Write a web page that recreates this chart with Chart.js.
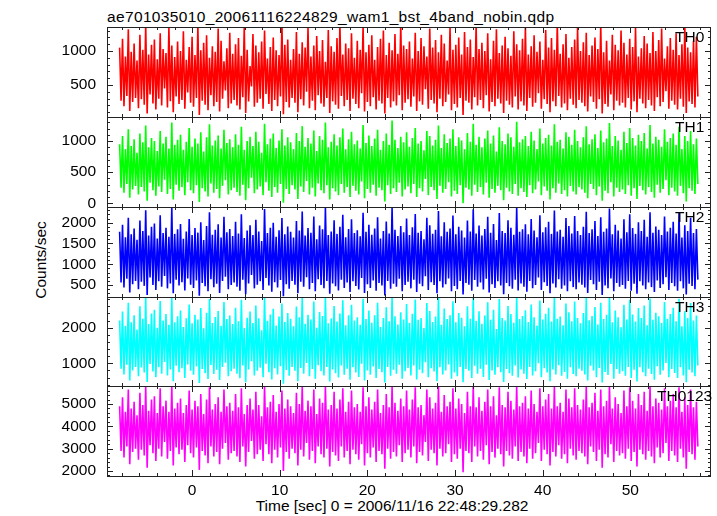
<!DOCTYPE html>
<html>
<head>
<meta charset="utf-8">
<script src="https://cdn.jsdelivr.net/npm/chart.js@4"></script>
<style>
  html, body { margin: 0; padding: 0; background: #fff; }
  #wrap { position: relative; width: 717px; height: 516px; overflow: hidden; font-family: "Liberation Sans", Arial, sans-serif; color: #000; }
  canvas { position: absolute; left: 0; }
  .txt { position: absolute; font-size: 15.5px; line-height: 16px; white-space: nowrap; }
</style>
</head>
<body>
<div id="wrap">
  <div class="txt" style="left:107px; top:9px; letter-spacing:0.35px;">ae701035010_20061116224829_wam1_bst_4band_nobin.qdp</div>
  <div class="txt" style="left:41px; top:260px; transform: translate(-50%,-50%) rotate(-90deg);">Counts/sec</div>
  <div class="txt" style="left:392px; top:498px; transform: translateX(-50%);">Time [sec] 0 = 2006/11/16 22:48:29.282</div>
</div>
<script>
// ---- sampling of the light curves ----
const timeStart = -8.26;   // time of first sample [s]
const timeEnd = 57.7;      // time of last sample [s]

// ---- count rates (counts/sec): upward and downward excursions, alternating in time ----
const th0Hi = [
1050,1180,920,1320,990,1110,860,1240,1020,1400,950,1090,1170,880,1260,1030,970,1350,1080,910,
1140,1000,1290,870,1060,1210,940,1380,1010,1120,1230,900,1070,990,1330,1150,850,1040,1270,960,
1100,1190,930,1360,1020,780,1250,1080,980,1140,1300,890,1060,1200,1010,940,1410,1090,1170,870,
1030,1280,960,1130,1050,1340,920,1080,1220,1000,1160,840,1310,1070,990,1190,1390,950,1110,1040,
1260,900,1150,1020,1370,980,1090,1230,870,1060,1180,1300,940,1120,1010,1250,960,1400,1080,1030,
1140,890,1270,1000,1190,1070,920,1330,1050,1160,980,1240,1110,860,1350,1020,1090,1200,950,1280,
1060,1170,910,1380,1030,1120,1000,1260,880,1150,1320,970,1080,1210,1040,930,1290,1100,1010,1180,
1360,950,1070,1230,990,1140,870,1310,1050,1190,1020,1420,960,1100,1250,900,1060,1170,1340,1000,
1130,1270,940,1080,1200,1030,1390,980,1150,860,1240,1090,1010,1300,1120,950,1180,1060,1350,920,
1040,1220,1110,970,1280,1000,1160,1330,890,1070,1190,1020,1260,940,1100,1370,1050,980,1150,1210];
const th0Lo = [
270,190,340,120,250,310,160,290,210,80,360,230,140,300,200,450,170,260,100,330,
220,280,150,390,240,180,310,60,270,210,130,350,190,250,110,300,420,160,230,280,
200,140,320,90,260,480,180,240,300,150,370,220,120,280,190,330,70,250,170,310,
240,100,290,200,400,160,270,130,350,230,180,310,90,260,210,150,340,190,280,120,
300,220,160,380,110,250,190,320,140,270,230,80,310,170,260,200,350,130,240,290,
180,330,120,260,210,440,150,280,230,100,300,190,250,360,130,220,170,310,60,270,
240,140,320,200,280,160,350,110,250,190,300,230,90,270,210,170,330,140,260,200,
120,310,180,240,380,150,290,220,100,260,190,340,170,230,130,300,210,160,280,240,
190,110,330,250,150,290,80,220,180,360,130,270,200,240,170,310,140,260,100,300,
230,160,280,200,120,320,190,250,410,150,270,210,140,300,180,90,260,220,170,330];

const th1Hi = [
950,1080,870,1190,920,1030,810,1120,980,1250,900,1050,1000,840,1160,960,1070,880,1300,940,
1020,1100,860,990,1210,910,1040,960,1140,830,1060,1270,930,1010,1090,880,1180,970,1030,900,
1110,940,1230,860,1000,1070,920,1150,990,810,1280,950,1040,1120,890,1010,1190,930,1060,980,
870,1130,1000,1240,910,1050,960,1170,840,1080,1020,1300,900,990,1110,930,1060,1200,870,1030,
1150,950,1010,880,1260,970,1090,920,1040,1180,860,1000,1120,940,1330,1020,890,1070,980,1140,
910,1050,1210,960,1000,850,1160,1080,930,1020,1250,890,1110,970,1040,1190,920,1060,1010,870,
1130,990,1280,940,1070,900,1040,1170,960,1090,830,1220,1000,950,1120,1060,910,1310,980,1030,
1080,920,1150,1010,870,1200,960,1050,1100,930,1270,990,1020,880,1140,1070,940,1180,1000,900,
1060,1240,950,1030,1110,890,1170,980,1040,1290,920,1080,1010,860,1150,970,1210,1050,930,1100,
1000,1130,880,1260,960,1070,1020,910,1190,990,1050,1120,940,1230,870,1080,1000,1160,950,1040];
const th1Lo = [
250,170,310,90,220,280,140,260,190,40,330,210,120,270,180,380,150,230,60,300,
200,260,130,340,210,160,290,20,240,190,110,320,170,230,80,280,370,140,210,250,
180,120,300,50,240,410,160,220,270,130,340,200,100,260,170,310,10,230,150,290,
220,70,270,180,360,140,250,110,320,210,160,290,60,240,190,130,310,170,260,100,
280,200,140,350,80,230,170,300,120,250,210,30,290,150,240,180,330,110,220,270,
160,310,100,240,190,390,130,260,210,70,280,170,230,340,110,200,150,290,0,250,
220,120,300,180,260,140,330,90,230,170,280,210,50,250,190,150,310,120,240,180,
100,290,160,220,350,130,270,200,60,240,170,320,150,210,110,280,190,140,260,220,
170,80,310,230,130,270,40,200,160,340,110,250,180,220,150,290,120,240,70,280,
210,140,260,180,90,300,170,230,370,130,250,190,120,280,160,30,240,200,150,310];

const th2Hi = [
1780,1950,1650,2120,1720,1860,1590,2050,1800,2300,1690,1900,1980,1620,2180,1750,1880,1660,2380,1730,
1840,1970,1610,1790,2090,1700,1870,1760,2010,1580,1920,2250,1710,1830,1960,1640,2140,1770,1850,1680,
2020,1740,2200,1630,1810,1940,1700,2070,1790,1560,2330,1750,1880,2000,1660,1820,2110,1720,1910,1780,
1640,2040,1810,2270,1690,1870,1760,2150,1600,1930,1840,2350,1700,1790,2060,1730,1900,2190,1650,1850,
2080,1750,1820,1670,2240,1780,1950,1710,1860,2130,1620,1800,2030,1740,2380,1830,1680,1920,1770,2100,
1700,1890,2210,1760,1800,1600,2120,1940,1730,1830,2280,1670,2010,1780,1860,2170,1720,1900,1810,1640,
2050,1790,2320,1740,1930,1690,1850,2140,1760,1970,1580,2230,1800,1750,2060,1880,1710,2370,1780,1840,
1960,1720,2090,1810,1650,2180,1770,1890,2020,1730,2290,1790,1830,1660,2110,1920,1740,2160,1800,1700,
1900,2260,1750,1840,2040,1680,2130,1780,1860,2340,1720,1950,1810,1620,2080,1770,2200,1870,1730,2010,
1800,2070,1660,2250,1760,1910,1830,1700,2150,1790,1880,2020,1740,2240,1640,1940,1800,2120,1750,1850];
const th2Lo = [
560,440,650,320,520,600,400,580,480,260,680,500,380,590,460,720,420,540,300,630,
490,570,370,660,510,430,610,240,550,470,350,640,450,530,310,600,700,400,500,560,
460,360,630,280,540,740,420,510,590,380,670,490,340,570,440,620,230,520,410,600,
510,300,580,460,690,400,550,350,640,500,420,600,290,540,470,370,630,430,560,330,
590,480,390,670,310,520,430,610,360,550,490,250,600,410,530,460,650,350,500,580,
420,630,330,530,470,710,380,570,500,300,590,440,520,660,350,480,400,600,270,550,
510,360,620,460,560,390,650,320,520,430,590,490,280,550,470,410,630,370,540,460,
340,600,420,500,680,380,570,480,300,540,440,640,410,490,350,590,450,400,560,510,
440,310,620,520,380,580,260,490,420,660,350,550,460,500,410,600,360,530,290,590,
490,400,560,450,330,610,430,520,690,380,550,470,360,590,420,270,530,480,400,630];

const th3Hi = [
2200,2450,2050,2700,2150,2350,1950,2600,2250,2860,2100,2400,2500,2000,2750,2200,2380,2080,2830,2150,
2320,2480,2020,2260,2650,2120,2360,2230,2550,1980,2420,2800,2130,2300,2470,2050,2720,2240,2340,2100,
2560,2180,2780,1990,2280,2450,2130,2620,2260,1930,2860,2190,2370,2530,2060,2310,2680,2160,2410,2250,
2040,2590,2290,2840,2110,2360,2230,2730,2000,2440,2330,2860,2120,2260,2610,2170,2400,2770,2070,2350,
2640,2200,2290,2080,2810,2240,2480,2140,2350,2700,2020,2270,2570,2180,2860,2320,2090,2430,2230,2660,
2130,2390,2790,2220,2270,1990,2690,2470,2160,2310,2850,2080,2540,2240,2350,2740,2150,2410,2280,2040,
2600,2250,2860,2190,2460,2110,2340,2710,2220,2500,1960,2800,2270,2200,2610,2380,2140,2860,2240,2330,
2490,2160,2650,2290,2060,2760,2230,2390,2560,2170,2850,2250,2310,2070,2680,2430,2180,2730,2270,2120,
2410,2830,2210,2330,2580,2090,2700,2240,2360,2860,2150,2480,2290,2010,2640,2230,2780,2370,2170,2550,
2270,2620,2070,2820,2220,2420,2320,2130,2720,2250,2380,2560,2180,2810,2040,2460,2270,2690,2200,2340];
const th3Lo = [
850,690,960,520,800,900,640,880,740,480,980,770,610,890,710,1040,660,830,500,930,
750,860,590,970,790,680,910,450,840,720,560,950,700,820,530,900,1020,640,780,850,
710,580,940,470,830,1060,660,790,880,610,990,750,550,860,690,920,430,810,650,900,
790,500,870,710,1010,640,840,570,950,780,660,900,490,830,720,600,940,680,850,540,
890,740,620,990,520,800,680,910,590,840,750,460,900,650,820,710,960,570,780,870,
660,940,550,820,720,1030,610,860,770,500,890,690,800,970,570,740,640,900,470,840,
790,590,930,710,850,620,960,530,800,680,890,750,480,840,720,650,940,600,830,710,
560,900,660,780,1000,610,860,740,500,830,690,950,650,760,570,890,700,640,850,790,
690,520,930,800,610,870,460,760,670,980,570,840,710,780,650,900,590,820,490,890,
750,640,850,700,540,920,680,800,1010,610,840,730,590,890,660,470,820,740,640,940];

const th0123Hi = [
4900,5300,4650,5650,4800,5100,4500,5500,4950,5800,4700,5200,5350,4600,5700,4900,5150,4650,5800,4800,
5050,5250,4600,4950,5600,4750,5150,4900,5450,4550,5200,5750,4750,5000,5300,4650,5650,4900,5050,4700,
5450,4850,5700,4550,4950,5250,4750,5550,4950,4450,5800,4850,5100,5400,4650,5000,5600,4800,5200,4900,
4600,5500,5000,5800,4700,5150,4900,5650,4550,5250,5050,5800,4750,4950,5550,4800,5200,5700,4650,5100,
5600,4850,5000,4650,5750,4900,5300,4750,5100,5650,4600,4950,5450,4850,5800,5050,4700,5250,4900,5600,
4750,5200,5750,4850,4950,4500,5650,5300,4800,5050,5800,4650,5400,4900,5100,5700,4800,5250,5000,4600,
5550,4900,5800,4850,5300,4700,5100,5650,4900,5350,4500,5750,4950,4850,5550,5150,4750,5800,4900,5050,
5350,4800,5600,5000,4650,5700,4900,5200,5450,4800,5800,4900,5050,4650,5650,5250,4850,5700,4950,4750,
5200,5800,4850,5050,5500,4700,5650,4900,5150,5800,4800,5300,5000,4600,5600,4900,5750,5150,4800,5450,
4950,5550,4700,5800,4900,5250,5050,4750,5700,4900,5150,5450,4850,5750,4650,5300,4950,5650,4850,5100];
const th0123Lo = [
2900,2600,3100,2300,2850,3000,2500,2950,2700,2150,3150,2800,2450,3000,2650,3300,2550,2900,2250,3050,
2750,2950,2400,3150,2800,2600,3050,2050,2900,2700,2350,3100,2650,2850,2300,3000,3250,2500,2800,2900,
2650,2400,3100,2200,2850,3350,2550,2750,2950,2450,3200,2750,2350,2950,2600,3050,2000,2850,2550,3000,
2800,2250,2950,2650,3250,2500,2900,2350,3100,2750,2600,3000,2200,2850,2700,2450,3100,2600,2900,2300,
2950,2750,2500,3200,2250,2800,2600,3050,2400,2900,2750,2100,3000,2550,2850,2650,3150,2400,2800,2950,
2600,3100,2350,2850,2700,3300,2450,2950,2800,2250,3000,2650,2800,3200,2400,2750,2550,3000,1950,2900,
2800,2400,3100,2650,2900,2500,3150,2300,2850,2600,3000,2750,2200,2900,2700,2550,3100,2450,2850,2650,
2350,3000,2550,2800,3250,2450,2950,2750,2250,2850,2650,3150,2550,2750,2350,3000,2700,2500,2900,2800,
2650,2300,3100,2850,2450,2950,2150,2750,2600,3200,2400,2900,2700,2800,2550,3000,2450,2850,2200,2950,
2750,2500,2900,2650,2350,3050,2600,2800,3250,2450,2900,2700,2400,3000,2600,2100,2850,2750,2500,3100];

// ---- axis tick labels ----
const xTickLabels = [0, 10, 20, 30, 40, 50];
const th0Ticks = [500, 1000];
const th1Ticks = [0, 500, 1000];
const th2Ticks = [500, 1000, 1500, 2000];
const th3Ticks = [1000, 2000];
const th0123Ticks = [2000, 3000, 4000, 5000];
const bandNames = ["TH0", "TH1", "TH2", "TH3", "TH0123"];

// ---- layout / style ----
const panelTops = [27, 117, 207, 297, 386, 476];
const FONT = '"Liberation Sans", Arial, sans-serif';
const panels = [
  { name: bandNames[0], hi: th0Hi, lo: th0Lo, color: '#ff0000', min: 30,   max: 1353, ticks: th0Ticks, major: 500,  minor: 100, lx: 675 },
  { name: bandNames[1], hi: th1Hi, lo: th1Lo, color: '#00ff00', min: -60,  max: 1387, ticks: th1Ticks, major: 500,  minor: 100, lx: 675 },
  { name: bandNames[2], hi: th2Hi, lo: th2Lo, color: '#0000ff', min: 212,  max: 2377, ticks: th2Ticks, major: 500,  minor: 100, lx: 675 },
  { name: bandNames[3], hi: th3Hi, lo: th3Lo, color: '#00ffff', min: 364,  max: 2860, ticks: th3Ticks, major: 1000, minor: 200, lx: 675 },
  { name: bandNames[4], hi: th0123Hi, lo: th0123Lo, color: '#ff00ff', min: 1776, max: 5806, ticks: th0123Ticks, major: 1000, minor: 200, lx: 657 }
];

function samples(hi, lo) {
  const n = hi.length * 2;
  const dt = (timeEnd - timeStart) / (n - 1);
  const pts = [];
  for (let i = 0; i < hi.length; i++) {
    pts.push({ x: timeStart + (2 * i) * dt, y: hi[i] });
    pts.push({ x: timeStart + (2 * i + 1) * dt, y: lo[i] });
  }
  return pts;
}

const framePlugin = {
  id: 'frame',
  afterDatasetsDraw(chart, args, o) {
    const { ctx, chartArea, scales } = chart;
    const xs = scales.x, ys = scales.y;
    const L = Math.round(chartArea.left), R = Math.round(chartArea.right);
    const T = Math.round(chartArea.top), B = Math.round(chartArea.bottom);
    ctx.save();
    ctx.strokeStyle = '#222';
    ctx.lineWidth = 1;
    ctx.beginPath();
    for (let v = -8; v <= 58; v += 2) {
      const px = Math.round(xs.getPixelForValue(v)) + 0.5;
      const len = (v % 10 === 0) ? 6 : 3;
      ctx.moveTo(px, B); ctx.lineTo(px, B - len);
      ctx.moveTo(px, T); ctx.lineTo(px, T + len);
    }
    const start = Math.ceil(ys.min / o.minor) * o.minor;
    for (let v = start; v <= ys.max; v += o.minor) {
      const py = Math.round(ys.getPixelForValue(v)) + 0.5;
      const len = (v % o.major === 0) ? 6 : 3;
      ctx.moveTo(L, py); ctx.lineTo(L + len, py);
      ctx.moveTo(R, py); ctx.lineTo(R - len, py);
    }
    ctx.stroke();
    ctx.strokeRect(L + 0.5, T + 0.5, R - L - 1, B - T);
    ctx.fillStyle = '#000';
    ctx.font = '15.5px ' + FONT;
    ctx.textBaseline = 'alphabetic';
    ctx.textAlign = 'left';
    ctx.fillText(o.label, o.lx, T + 15);
    ctx.restore();
  }
};

const wrap = document.getElementById('wrap');
panels.forEach((p, i) => {
  const last = i === panels.length - 1;
  const top = panelTops[i] - 1;
  const h = last ? (516 - top) : (panelTops[i + 1] - panelTops[i] + 2);
  const cv = document.createElement('canvas');
  cv.width = 717; cv.height = h;
  cv.style.top = top + 'px';
  cv.style.width = '717px'; cv.style.height = h + 'px';
  wrap.appendChild(cv);

  new Chart(cv, {
    type: 'line',
    data: {
      datasets: [{
        data: samples(p.hi, p.lo),
        borderColor: p.color,
        borderWidth: 1.6,
        pointRadius: 0,
        tension: 0,
        fill: false
      }]
    },
    options: {
      responsive: false,
      animation: false,
      devicePixelRatio: 1,
      layout: { padding: { top: 1, bottom: last ? 0 : 1, left: 0, right: 6 } },
      plugins: {
        legend: { display: false },
        tooltip: { enabled: false },
        frame: { label: p.name, lx: p.lx, major: p.major, minor: p.minor }
      },
      scales: {
        x: {
          type: 'linear',
          min: -9.7, max: 59.2,
          display: last,
          grid: { display: false, drawTicks: false },
          border: { display: false },
          afterBuildTicks: (s) => { s.ticks = xTickLabels.map(v => ({ value: v })); },
          afterFit: (s) => { s.height = last ? 40 : 0; s.paddingLeft = 0; s.paddingRight = 0; },
          ticks: { color: '#000', font: { family: FONT, size: 15.5 }, padding: 5, maxRotation: 0, autoSkip: false, callback: (v) => String(v) }
        },
        y: {
          type: 'linear',
          position: 'left',
          min: p.min, max: p.max,
          grid: { display: false, drawTicks: false },
          border: { display: false },
          afterBuildTicks: (s) => { s.ticks = p.ticks.map(v => ({ value: v })); },
          afterFit: (s) => { s.width = 107; s.paddingTop = 0; s.paddingBottom = 0; },
          ticks: { color: '#000', font: { family: FONT, size: 15.5 }, padding: 11, autoSkip: false, callback: (v) => String(v) }
        }
      }
    },
    plugins: [framePlugin]
  });
});
</script>
</body>
</html>
